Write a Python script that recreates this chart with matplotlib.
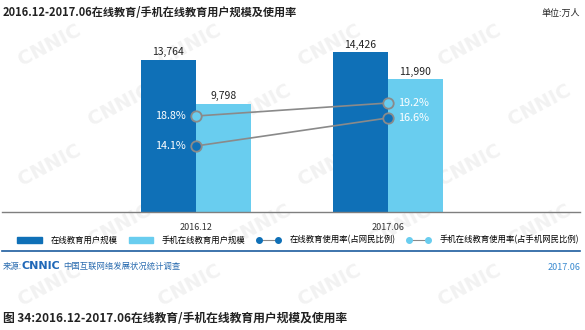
import matplotlib
matplotlib.use("Agg")
import matplotlib.pyplot as plt
from matplotlib.patches import Patch
from matplotlib.lines import Line2D

plt.rcParams['font.family'] = ['Noto Sans CJK SC', 'DejaVu Sans']

# data
periods = ['2016.12', '2017.06']
edu_users = [13764, 14426]          # 在线教育用户规模
mobile_edu_users = [9798, 11990]    # 手机在线教育用户规模
edu_rate = [14.1, 16.6]             # 在线教育使用率
mobile_edu_rate = [18.8, 19.2]      # 手机在线教育使用率

DARK = '#0f70b7'
LIGHT = '#69cdef'
GREY = '#8a8a8a'

W, H = 585, 330
fig = plt.figure(figsize=(W / 100, H / 100), dpi=100)
fig.patch.set_facecolor('white')

# faint watermark, kept inside the canvas
for row, yy in enumerate(range(45, 300, 60)):
    shift = 70 if row % 2 else 0
    for xx in range(50 + shift, 560, 140):
        fig.text(xx / W, 1 - yy / H, 'CNNIC', fontsize=14, fontweight='bold',
                 color='#f2f2f2', rotation=28, ha='center', va='center',
                 family='DejaVu Sans', zorder=-5)

ax = fig.add_axes([2 / W, 1 - 212 / H, 578 / W, 177 / H])
ax.patch.set_visible(False)

x = list(range(len(periods)))
bw = 0.2865
xd = [i - bw / 2 for i in x]
xl = [i + bw / 2 for i in x]
bars1 = ax.bar(xd, edu_users, width=bw, color=DARK, zorder=2)
bars2 = ax.bar(xl, mobile_edu_users, width=bw, color=LIGHT, zorder=2)
ax.set_xlim(-1.0104, 2.0)
ax.set_ylim(0, 16000)

for bars in (bars1, bars2):
    for b in bars:
        h = b.get_height()
        ax.annotate(f'{h:,.0f}', xy=(b.get_x() + b.get_width() / 2, h),
                    xytext=(0, 2), textcoords='offset points',
                    ha='center', va='bottom', fontsize=7.5, color='#222222')

for s in ('top', 'left', 'right'):
    ax.spines[s].set_visible(False)
ax.spines['bottom'].set_color('#7f7f7f')
ax.spines['bottom'].set_linewidth(1.0)
ax.set_yticks([])
ax.set_xticks(x)
ax.set_xticklabels(periods, fontsize=6.5, color='#333333')
ax.tick_params(axis='x', length=0, pad=8)

# usage rates on their own hidden scales
def rate_axis(lo, hi):
    t = ax.twinx()
    t.set_ylim(lo, hi)
    t.set_yticks([])
    for s in t.spines.values():
        s.set_visible(False)
    t.patch.set_visible(False)
    return t

tw1 = rate_axis(8.21, 24.0)
tw2 = rate_axis(15.85, 21.29)
for t, vals, face in ((tw1, edu_rate, DARK), (tw2, mobile_edu_rate, LIGHT)):
    t.plot(x, vals, color=GREY, linewidth=1.2, marker='o', markersize=7.5,
           markerfacecolor=face, markeredgecolor=GREY, markeredgewidth=1.3, zorder=3)
    t.annotate(f'{vals[0]}%', xy=(x[0], vals[0]), xytext=(-7, 0),
               textcoords='offset points', ha='right', va='center',
               fontsize=7.8, color='white')
    t.annotate(f'{vals[1]}%', xy=(x[1], vals[1]), xytext=(7, 0),
               textcoords='offset points', ha='left', va='center',
               fontsize=7.8, color='white')

# legend
handles = [
    Patch(color=DARK),
    Patch(color=LIGHT),
    Line2D([], [], color=GREY, linewidth=0.8, marker='o', markersize=4,
           markerfacecolor=DARK, markeredgecolor=DARK),
    Line2D([], [], color=GREY, linewidth=0.8, marker='o', markersize=4,
           markerfacecolor=LIGHT, markeredgecolor=LIGHT),
]
labels = ['在线教育用户规模', '手机在线教育用户规模',
          '在线教育使用率(占网民比例)', '手机在线教育使用率(占手机网民比例)']
fig.legend(handles, labels, loc='center left', bbox_to_anchor=(14 / W, 1 - 240 / H),
           ncol=4, frameon=False, fontsize=6, numpoints=2, handlelength=2.9,
           handleheight=0.8, handletextpad=1.1, columnspacing=1.3, borderaxespad=0)

# titles and footer
fig.text(3 / W, 1 - 13 / H, '2016.12-2017.06在线教育/手机在线教育用户规模及使用率',
         fontsize=8, fontweight='bold', color='#222222', va='center', ha='left')
fig.text(580 / W, 1 - 13 / H, '单位:万人', fontsize=6.5, color='#222222',
         va='center', ha='right')

fig.add_artist(Line2D([2 / W, 580 / W], [1 - 251 / H, 1 - 251 / H],
                      color='#1d5c9e', linewidth=1.2))
fig.text(3 / W, 1 - 266 / H, '来源:', fontsize=6, color='#2a6cb0', va='center')
fig.text(22 / W, 1 - 266 / H, 'CNNIC', fontsize=8, fontweight='bold',
         color='#1f68b8', va='center', family='DejaVu Sans')
fig.text(63 / W, 1 - 266 / H, '中国互联网络发展状况统计调查', fontsize=6,
         color='#2a6cb0', va='center')
fig.text(580 / W, 1 - 267 / H, '2017.06', fontsize=6.5, color='#3a8ad0',
         va='center', ha='right')

fig.text(3 / W, 1 - 319 / H, '图 34:2016.12-2017.06在线教育/手机在线教育用户规模及使用率',
         fontsize=8.5, fontweight='bold', color='#222222', va='center', ha='left')

fig.savefig('out.png', dpi=100)
